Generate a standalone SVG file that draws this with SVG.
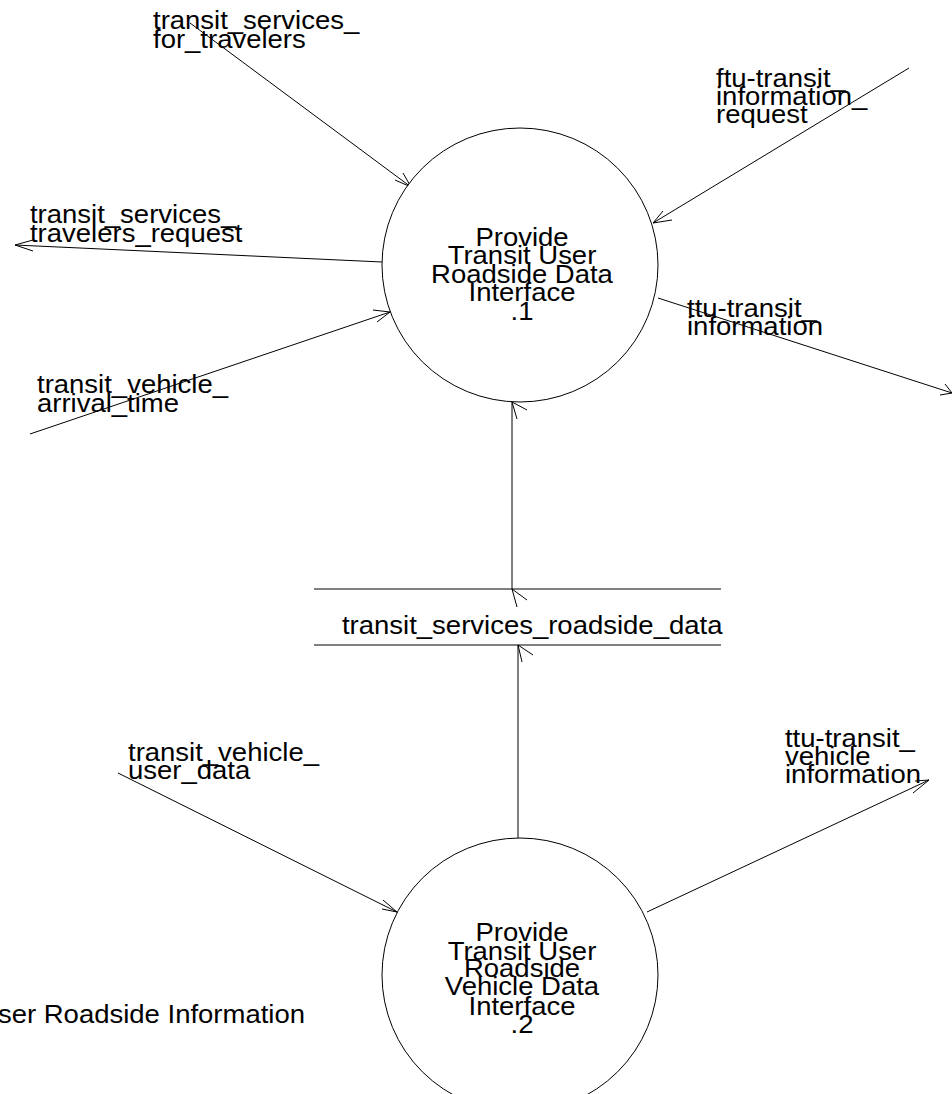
<svg xmlns="http://www.w3.org/2000/svg" width="952" height="1094" viewBox="0 0 952 1094">
<style>
  .t { font-family: "Liberation Sans", Arial, Helvetica, sans-serif; font-size: 25px; fill: #000; }
  .m { text-anchor: middle; }
  .e { text-anchor: end; }
  .ln { stroke: #000; stroke-width: 1; fill: none; }
  .nd { stroke: #000; stroke-width: 1; fill: #fff; }
</style>
<rect width="952" height="1094" fill="#fff"/>

<g id="connectors">
  <g id="f-transit_services_for_travelers">
    <line class="ln" x1="190" y1="23" x2="411" y2="187"/>
    <polyline class="ln" points="395,180 411,187 403,173"/>
  </g>
  <g id="f-ftu-transit_information_request">
    <line class="ln" x1="909" y1="68" x2="653" y2="223"/>
    <polyline class="ln" points="663,211 653,223 672,220"/>
  </g>
  <g id="f-transit_services_travelers_request">
    <line class="ln" x1="382" y1="262" x2="15" y2="245"/>
    <polyline class="ln" points="33,240 15,245 33,251"/>
  </g>
  <g id="f-transit_vehicle_arrival_time">
    <line class="ln" x1="30" y1="434" x2="390" y2="312"/>
    <polyline class="ln" points="373,310 390,312 377,322"/>
  </g>
  <g id="f-ttu-transit_information">
    <line class="ln" x1="658" y1="298" x2="952" y2="393"/>
    <polyline class="ln" points="945,384 952,393 940,395"/>
  </g>
  <g id="f-store-to-1">
    <line class="ln" x1="512" y1="589" x2="512" y2="402"/>
    <polyline class="ln" points="527,410 512,402 517,419"/>
    <polyline class="ln" points="527,600 512,589 517,607"/>
  </g>
  <g id="f-2-to-store">
    <line class="ln" x1="518" y1="838" x2="518" y2="645"/>
    <polyline class="ln" points="533,655 518,645 522,662"/>
  </g>
  <g id="f-transit_vehicle_user_data">
    <line class="ln" x1="118" y1="773" x2="397" y2="912"/>
    <polyline class="ln" points="383,900 397,912 382,909"/>
  </g>
  <g id="f-ttu-transit_vehicle_information">
    <line class="ln" x1="647" y1="912" x2="929" y2="780"/>
    <polyline class="ln" points="913,793 929,780 915,781"/>
  </g>
</g>

<g id="flow-labels">
  <text class="t" transform="scale(1.1,1)"><tspan x="139.09" y="29">transit_services_</tspan><tspan x="139.09" y="48">for_travelers</tspan></text>
  <text class="t" transform="scale(1.1,1)"><tspan x="650.91" y="87">ftu-transit_</tspan><tspan x="650.91" y="105">information_</tspan><tspan x="650.91" y="123">request</tspan></text>
  <text class="t" transform="scale(1.1,1)"><tspan x="27.27" y="223">transit_services_</tspan><tspan x="27.27" y="242">travelers_request</tspan></text>
  <text class="t" transform="scale(1.1,1)"><tspan x="33.64" y="393">transit_vehicle_</tspan><tspan x="33.64" y="412">arrival_time</tspan></text>
  <text class="t" transform="scale(1.1,1)"><tspan x="624.55" y="317">ttu-transit_</tspan><tspan x="624.55" y="335">information</tspan></text>
  <text class="t" transform="scale(1.1,1)"><tspan x="116.36" y="761">transit_vehicle_</tspan><tspan x="116.36" y="779">user_data</tspan></text>
  <text class="t" transform="scale(1.1,1)"><tspan x="713.64" y="747">ttu-transit_</tspan><tspan x="713.64" y="765">vehicle</tspan><tspan x="713.64" y="783">information</tspan></text>
</g>

<g id="process-1">
  <ellipse class="nd" cx="520" cy="265" rx="138" ry="137"/>
  <text class="t m" transform="scale(1.1,1)"><tspan x="474.55" y="246">Provide</tspan><tspan x="474.55" y="264">Transit User</tspan><tspan x="474.55" y="283">Roadside Data</tspan><tspan x="474.55" y="301">Interface</tspan><tspan x="474.55" y="320">.1</tspan></text>
</g>

<g id="store-transit_services_roadside_data">
  <line class="ln" x1="314" y1="589" x2="721" y2="589"/>
  <line class="ln" x1="314" y1="645" x2="721" y2="645"/>
  <text class="t" transform="scale(1.1,1)" x="310.91" y="634">transit_services_roadside_data</text>
</g>

<g id="process-2">
  <ellipse class="nd" cx="520" cy="975" rx="138" ry="137"/>
  <text class="t m" transform="scale(1.1,1)"><tspan x="474.55" y="941">Provide</tspan><tspan x="474.55" y="960">Transit User</tspan><tspan x="474.55" y="977">Roadside</tspan><tspan x="474.55" y="995">Vehicle Data</tspan><tspan x="474.55" y="1015">Interface</tspan><tspan x="474.55" y="1033">.2</tspan></text>
</g>

<g id="title">
  <text class="t e" transform="scale(1.1,1)" x="277.27" y="1023">User Roadside Information</text>
</g>
</svg>
